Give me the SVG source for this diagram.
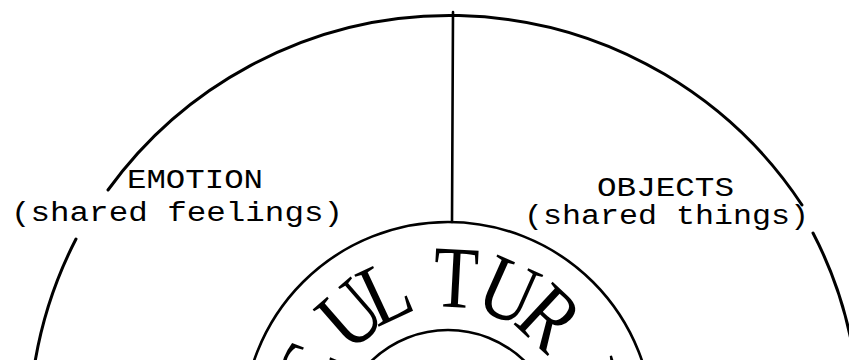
<svg xmlns="http://www.w3.org/2000/svg" width="849" height="360" viewBox="0 0 849 360">
  <style>
    .ln { fill: none; stroke: #000; stroke-linecap: round; }
    .outer { stroke-width: 3; }
    .mid { stroke-width: 2.6; }
    .tw { font-family: "Liberation Mono", "Courier New", monospace; font-size: 27px; fill: #000; }
    .cu { font-family: "Liberation Serif", "Times New Roman", serif; font-size: 88px; fill: #000; text-anchor: middle; }
  </style>
  <rect width="849" height="360" fill="#fff"/>
  <g id="connectors">
    <line class="ln mid" x1="453" y1="12" x2="452" y2="222"/>
  </g>
  <g id="outer-circle">
    <path class="ln outer" d="M 35 362 A 422 422 0 0 1 76 239"/>
    <path class="ln outer" d="M 108 190 A 422 422 0 0 1 802 205"/>
    <path class="ln outer" d="M 813 233 A 410 410 0 0 1 852 345"/>
  </g>
  <g id="emotion">
    <text class="tw" x="127" y="188" textLength="136" lengthAdjust="spacingAndGlyphs">EMOTION</text>
    <text class="tw" x="11" y="221" textLength="332" lengthAdjust="spacingAndGlyphs">(shared feelings)</text>
  </g>
  <g id="objects">
    <text class="tw" x="597" y="196" textLength="137" lengthAdjust="spacingAndGlyphs">OBJECTS</text>
    <text class="tw" x="524" y="224" textLength="285" lengthAdjust="spacingAndGlyphs">(shared things)</text>
  </g>
  <g id="culture">
    <circle class="ln mid" cx="448" cy="427" r="205"/>
    <text class="cu" transform="rotate(-68 448 427) translate(448 307) scale(0.84 1)">C</text>
    <text class="cu" transform="rotate(-41 448 427) translate(448 307) scale(0.84 1)">U</text>
    <text class="cu" transform="rotate(-25 448 427) translate(448 307) scale(0.84 1)">L</text>
    <text class="cu" transform="rotate(3 448 427) translate(448 307) scale(0.84 1)">T</text>
    <text class="cu" transform="rotate(24 448 427) translate(448 307) scale(0.84 1)">U</text>
    <text class="cu" transform="rotate(43 448 427) translate(448 307) scale(0.84 1)">R</text>
    <text class="cu" transform="rotate(73 448 427) translate(448 307) scale(0.84 1)">E</text>
  </g>
  <g id="inner-circle">
    <circle class="ln mid" cx="448" cy="440" r="110"/>
  </g>
</svg>
